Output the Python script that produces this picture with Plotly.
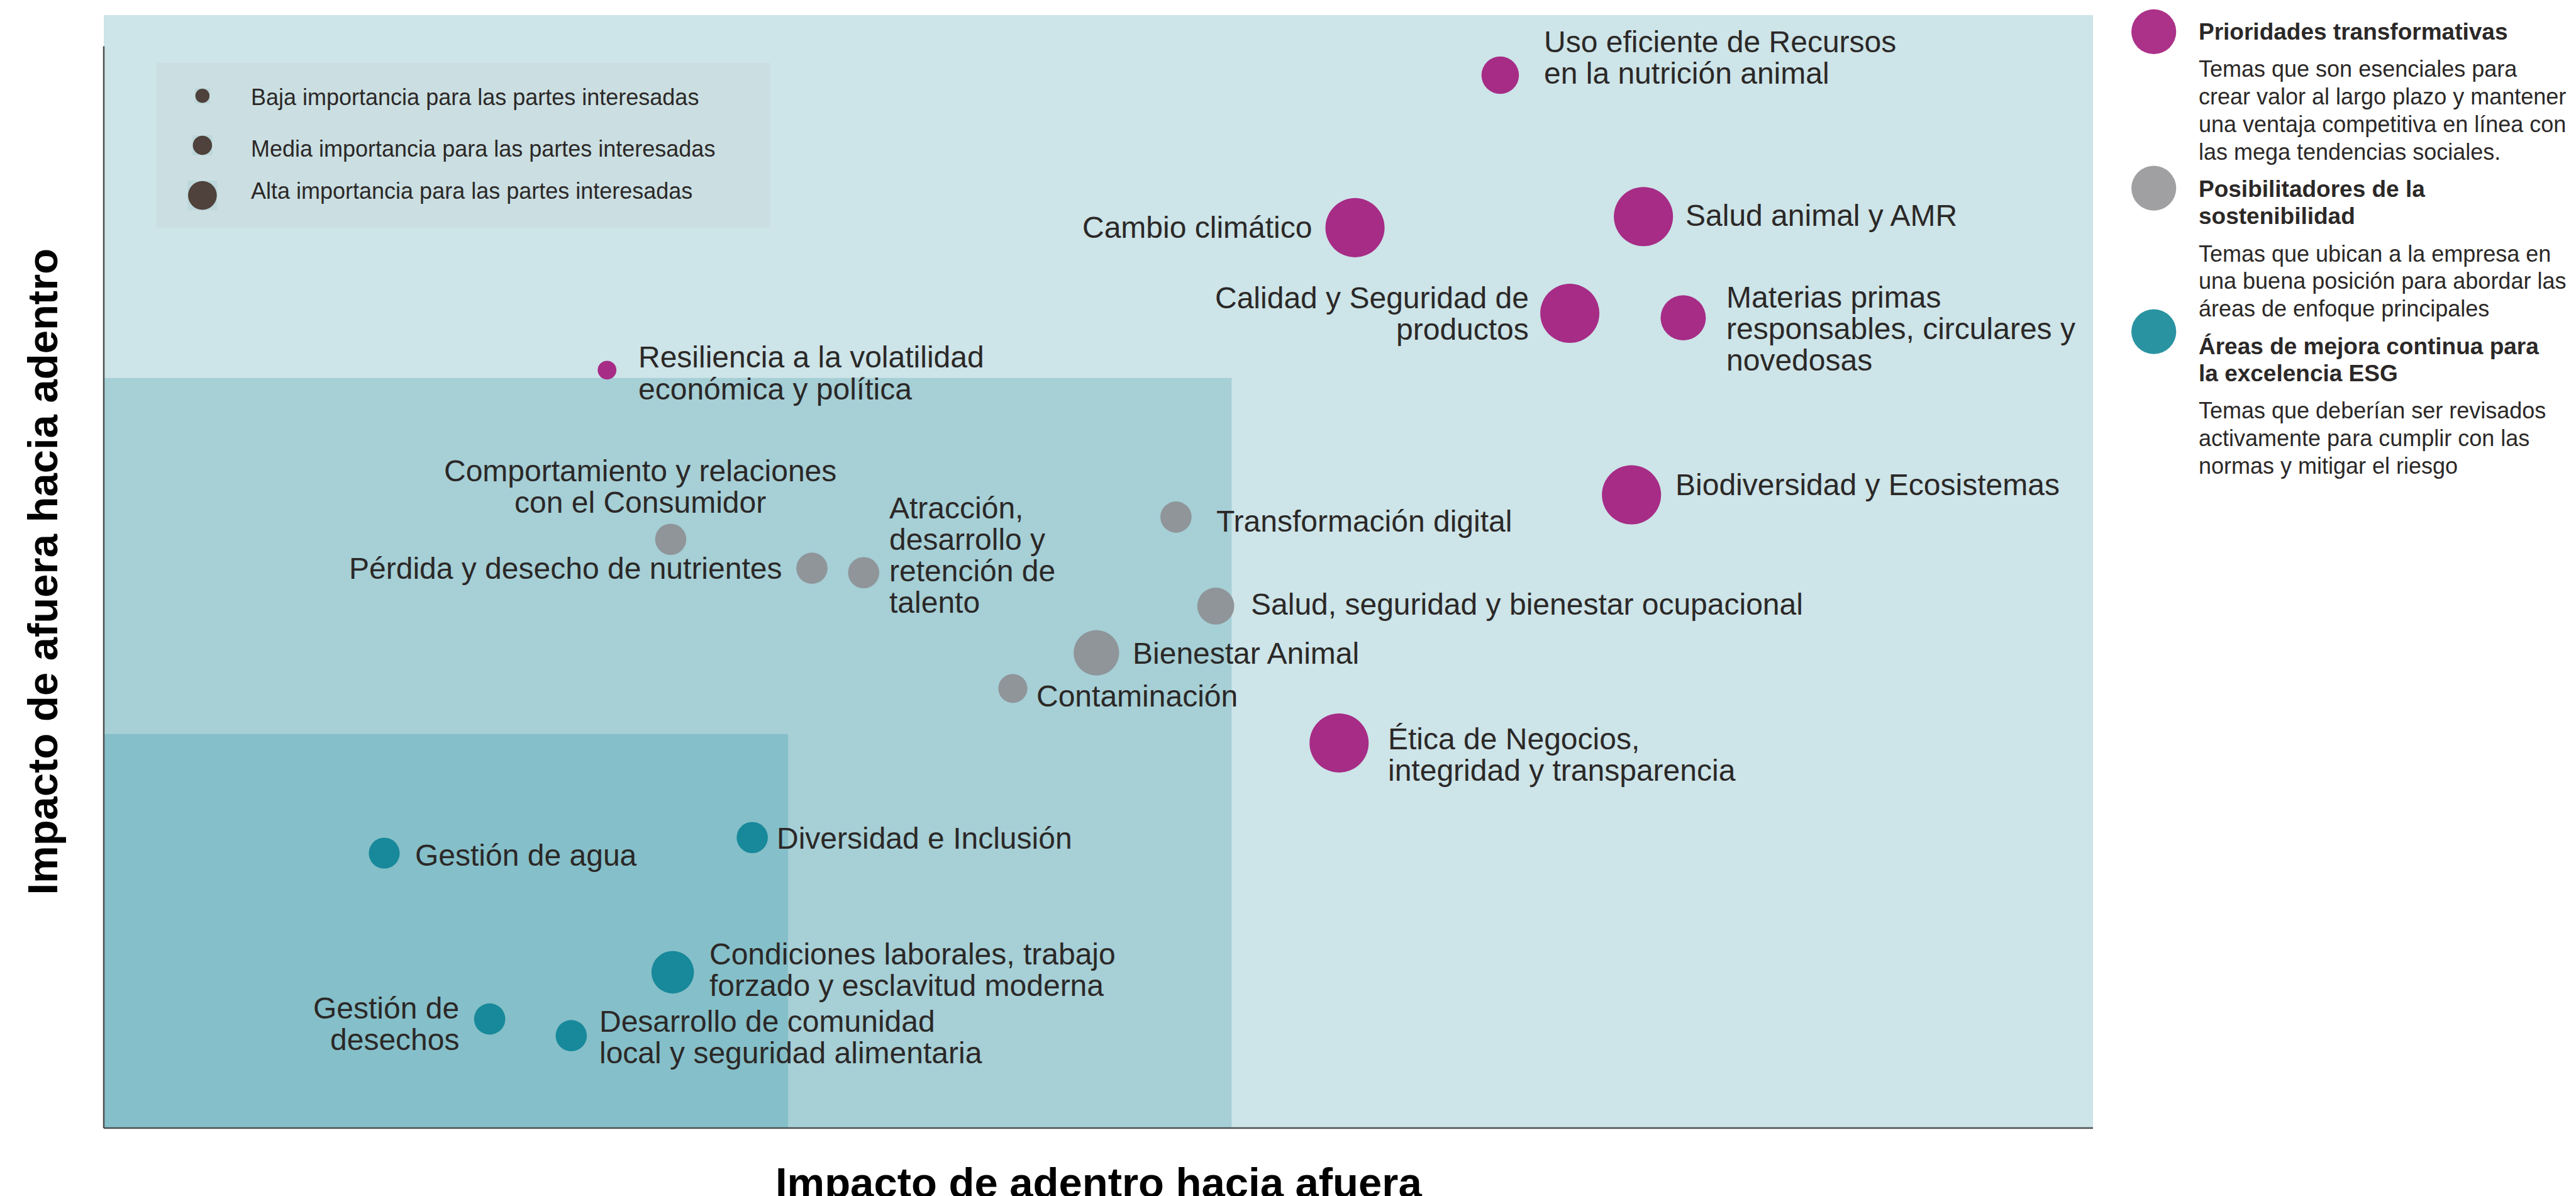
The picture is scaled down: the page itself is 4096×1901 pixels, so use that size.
import plotly.graph_objects as go

# ---- datos ----
temas = [
    "Uso eficiente de Recursos<br>en la nutrición animal",
    "Cambio climático",
    "Salud animal y AMR",
    "Calidad y Seguridad de<br>productos",
    "Materias primas<br>responsables, circulares y<br>novedosas",
    "Resiliencia a la volatilidad<br>económica y política",
    "Biodiversidad y Ecosistemas",
    "Ética de Negocios,<br>integridad y transparencia",
    "Comportamiento y relaciones<br>con el Consumidor",
    "Pérdida y desecho de nutrientes",
    "Atracción,<br>desarrollo y<br>retención de<br>talento",
    "Transformación digital",
    "Salud, seguridad y bienestar ocupacional",
    "Bienestar Animal",
    "Contaminación",
    "Gestión de agua",
    "Diversidad e Inclusión",
    "Condiciones laborales, trabajo<br>forzado y esclavitud moderna",
    "Gestión de<br>desechos",
    "Desarrollo de comunidad<br>local y seguridad alimentaria",
]
impacto_adentro_afuera = [70.2, 62.9, 77.4, 73.7, 79.4, 25.3, 76.8, 62.1,
                          28.5, 35.6, 38.2, 53.9, 55.9, 49.9, 45.7,
                          14.1, 32.6, 28.6, 19.4, 23.5]
impacto_afuera_adentro = [94.6, 80.9, 81.9, 73.2, 72.8, 68.1, 56.9, 34.6,
                          52.9, 50.3, 49.9, 54.9, 46.9, 42.7, 39.5,
                          24.7, 26.1, 14.0, 9.8, 8.3]
importancia = [22.8, 36, 36, 36, 27.5, 11.4, 36, 36,
               19, 19, 19, 19, 22.5, 27.7, 17.7,
               18.8, 19, 25.9, 19, 19]
categoria = ["T"] * 8 + ["P"] * 7 + ["M"] * 5

grupos = ["T", "P", "M"]
grupo_titulo = [
    ["Prioridades transformativas"],
    ["Posibilitadores de la", "sostenibilidad"],
    ["Áreas de mejora continua para", "la excelencia ESG"],
]
grupo_texto = [
    ["Temas que son esenciales para", "crear valor al largo plazo y mantener",
     "una ventaja competitiva en línea con", "las mega tendencias sociales."],
    ["Temas que ubican a la empresa en", "una buena posición para abordar las",
     "áreas de enfoque principales"],
    ["Temas que deberían ser revisados", "activamente para cumplir con las",
     "normas y mitigar el riesgo"],
]
niveles = ["Baja importancia para las partes interesadas",
           "Media importancia para las partes interesadas",
           "Alta importancia para las partes interesadas"]

# ---- estilo ----
S = 4096 / 1568
colores = {"T": "#A62C86", "P": "#8F9599", "M": "#17899A"}
colores_leyenda = {"T": "#AB3189", "P": "#A0A0A2", "M": "#2A93A1"}
TXT = "#2B2827"
FONT = "Liberation Sans, Arial, sans-serif"
W, H = 4096, 1901
ML, MR, MT, MB = 165, 768, 24, 108
PW, PH = W - ML - MR, H - MT - MB

def px(x):
    return (x - ML) / PW

def py(y):
    return (H - MB - y) / PH

# (anclaje, dx, dy) de cada etiqueta, en px de referencia reducida
etiquetas = [
    ("left", 25.7, -10.6), ("right", -25.6, 0), ("left", 24.8, -0.5),
    ("right", -24.2, 0), ("left", 25.5, 6.7), ("left", 18.4, 1.8),
    ("left", 25.8, -6.1), ("left", 28.9, 7.2), ("center", -18.4, -32.2),
    ("right", -17.7, 0), ("left", 14.7, -10.7), ("left", 23.8, 2.4),
    ("left", 20.5, -0.9), ("left", 21.4, 0.4), ("left", 13.6, 4.8),
    ("left", 18.1, 1.2), ("left", 14.1, 0.3), ("left", 21.5, -1.6),
    ("right", -17.7, 3), ("left", 16.2, 1),
]

fig = go.Figure()


def add_lines(lines, x, y, xref, yref, xanchor, xshift, yshift, gap, size, color=TXT, bold=False):
    n = len(lines)
    for i, line in enumerate(lines):
        fig.add_annotation(
            x=x, y=y, xref=xref, yref=yref,
            text=f"<b>{line}</b>" if bold else line,
            showarrow=False, xanchor=xanchor, yanchor="middle",
            xshift=xshift, yshift=yshift - (i - (n - 1) / 2) * gap,
            font=dict(family=FONT, size=size, color=color),
        )


# zonas
fig.add_shape(type="rect", x0=0, x1=56.7, y0=0, y1=67.4, fillcolor="#A6CFD6",
              line_width=0, layer="below")
fig.add_shape(type="rect", x0=0, x1=34.4, y0=0, y1=35.4, fillcolor="#85BFC9",
              line_width=0, layer="below")
# caja de tamaños
fig.add_shape(type="rect", x0=2.64, x1=33.5, y0=80.9, y1=95.7, fillcolor="#CBDFE2",
              line_width=0, layer="below")
# ejes
fig.add_shape(type="line", xref="paper", yref="paper", x0=0, x1=1, y0=0, y1=0,
              line=dict(color="#4B5052", width=2.5))
fig.add_shape(type="line", xref="paper", yref="paper", x0=0, x1=0, y0=0, y1=0.972,
              line=dict(color="#4B5052", width=2.5))

# puntos
fig.add_trace(go.Scatter(
    x=impacto_adentro_afuera, y=impacto_afuera_adentro, mode="markers",
    marker=dict(size=[v * S for v in importancia],
                color=[colores[c] for c in categoria], line_width=0, opacity=1),
    text=[t.replace("<br>", " ") for t in temas],
    hovertemplate="%{text}<extra></extra>", showlegend=False,
))

for i, tema in enumerate(temas):
    anc, dx, dy = etiquetas[i]
    add_lines(tema.split("<br>"), impacto_adentro_afuera[i], impacto_afuera_adentro[i],
              "x", "y", anc, dx * S, -dy * S, 19.2 * S, 48)

# leyenda de tamaños
nivel_tam = [8.6, 11.7, 17.5]
nivel_y = [92.75, 88.3, 83.8]
nivel_txt_y = [92.65, 88.0, 84.2]
fig.add_trace(go.Scatter(
    x=[4.96] * 3, y=nivel_y, mode="markers",
    marker=dict(size=[(v + 0.6) * S for v in nivel_tam], symbol="square",
                color="#B6D3D8", line_width=0),
    hoverinfo="skip", showlegend=False,
))
fig.add_trace(go.Scatter(
    x=[4.96] * 3, y=nivel_y, mode="markers",
    marker=dict(size=[v * S for v in nivel_tam], color="#4F413B", line_width=0, opacity=1),
    hoverinfo="skip", showlegend=False,
))
for txt, yy in zip(niveles, nivel_txt_y):
    add_lines([txt], 7.32, yy, "x", "y", "left", 0, 0, 0, 36)

# leyenda de categorías
circ_y = [19.3, 114.5, 201.8]
yy = 19.3
for g, tit, body, cy in zip(grupos, grupo_titulo, grupo_texto, circ_y):
    r = 27.3 * S / 2
    fig.add_shape(type="circle", xref="paper", yref="paper",
                  xsizemode="pixel", ysizemode="pixel",
                  xanchor=px(1311 * S), yanchor=py(cy * S),
                  x0=-r, x1=r, y0=-r, y1=r,
                  fillcolor=colores_leyenda[g], line_width=0)
    for line in tit:
        add_lines([line], px(1337.5 * S), py(yy * S), "paper", "paper", "left", 0, 0, 0, 37, bold=True)
        yy += 16.5
    yy += 22.7 - 16.5
    for line in body:
        add_lines([line], px(1337.5 * S), py(yy * S), "paper", "paper", "left", 0, 0, 0, 36)
        yy += 16.8
    yy += 22.7 - 16.8

# títulos de ejes
fig.add_annotation(x=0.5, y=0, xref="paper", yref="paper", yshift=-86,
                   text="<b>Impacto de adentro hacia afuera</b>", showarrow=False,
                   xanchor="center", yanchor="middle",
                   font=dict(family=FONT, size=67, color="#000000"))
fig.add_annotation(x=0, y=0.5, xref="paper", yref="paper", xshift=67 - ML,
                   text="<b>Impacto de afuera hacia adentro</b>", showarrow=False,
                   textangle=-90, xanchor="center", yanchor="middle",
                   font=dict(family=FONT, size=67, color="#000000"))

fig.update_layout(
    width=W, height=H,
    margin=dict(l=ML, r=MR, t=MT, b=MB),
    paper_bgcolor="white", plot_bgcolor="#CDE4E8",
    xaxis=dict(range=[0, 100], visible=False, fixedrange=True),
    yaxis=dict(range=[0, 100], visible=False, fixedrange=True),
    showlegend=False,
)

# sin margen del body, para que la figura empiece en (0, 0)
fig.write_html("out.html", config={"displayModeBar": False},
               post_script="document.body.style.margin='0';")
